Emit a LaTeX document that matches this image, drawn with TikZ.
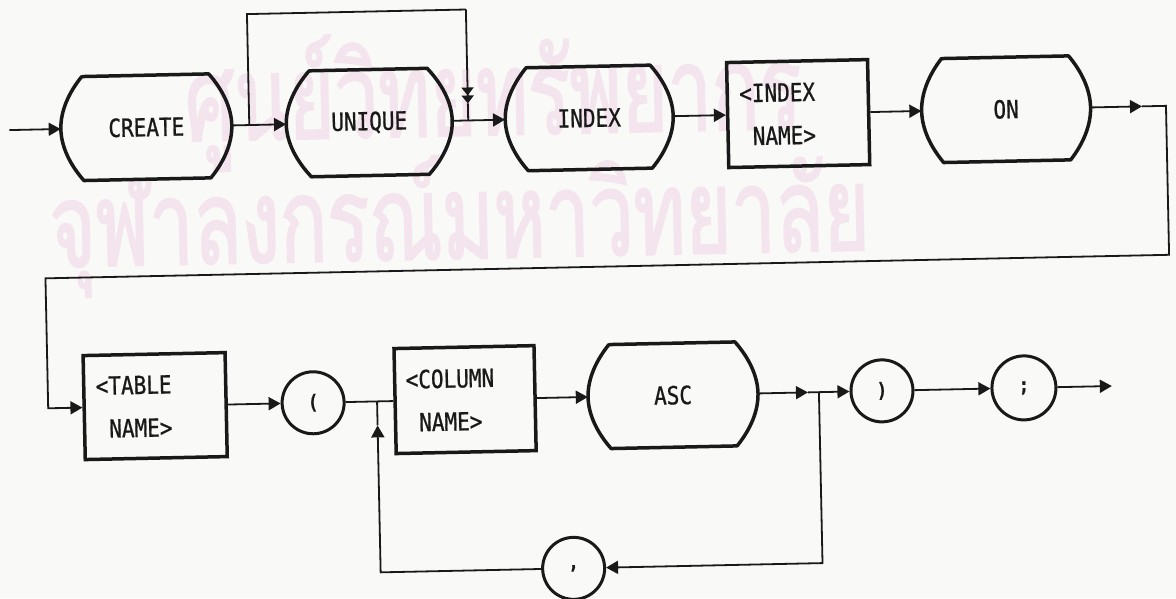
\documentclass[tikz,border=0pt]{standalone}
\usepackage{fontspec}
\usetikzlibrary{arrows.meta,calc}
\newfontfamily\dotfont[FakeStretch=0.84,FakeBold=0.8]{DejaVu Sans Mono}
\newfontfamily\thaifont[Script=Thai,FakeStretch=0.665,FakeBold=1.5]{Loma}
\definecolor{ink}{RGB}{25,25,25}
\definecolor{wm}{RGB}{244,228,238}
\definecolor{paper}{RGB}{249,249,247}
\tikzset{
  conn/.style={draw=ink, line width=1.8pt},
  arr/.style={conn, -{Triangle[length=12pt,width=13pt]}},
  arrtwo/.style={conn, -{Triangle[length=8pt,width=12pt]Triangle[length=8pt,width=12pt]}},
  border/.style={draw=ink, line width=3.5pt, line join=round},
  lbl/.style={font=\dotfont\fontsize{25}{43}\selectfont, text=ink, inner sep=0pt},
  kwnode/.style={lbl, draw=none, shape=rectangle, align=center},
  boxnode/.style={lbl, draw=ink, line width=3.5pt, shape=rectangle, align=left},
  circnode/.style={draw=ink, line width=3pt, circle, minimum size=62pt, inner sep=0pt,
    font=\dotfont\bfseries\fontsize{20}{20}\selectfont, text=ink},
  wmark/.style={text=wm, font=\thaifont\fontsize{118}{118}\selectfont, inner sep=0pt, anchor=base west},
}
\newcommand\kwshape[7]{%
  \node[kwnode, minimum width=#4pt, minimum height=#5pt] (#1) at (#2,#3) {#7};
  \pgfmathsetmacro\kwA{#4/2}\pgfmathsetmacro\kwB{#5/2}
  \draw[border] ({#2-\kwA+#6},{#3-\kwB}) -- ({#2+\kwA-#6},{#3-\kwB})
    .. controls ({#2+\kwA-0.4*#6},{#3-0.7*\kwB}) and ({#2+\kwA},{#3-0.35*\kwB}) .. ({#2+\kwA},#3)
    .. controls ({#2+\kwA},{#3+0.35*\kwB}) and ({#2+\kwA-0.4*#6},{#3+0.7*\kwB}) .. ({#2+\kwA-#6},{#3+\kwB})
    -- ({#2-\kwA+#6},{#3+\kwB})
    .. controls ({#2-\kwA+0.4*#6},{#3+0.7*\kwB}) and ({#2-\kwA},{#3+0.35*\kwB}) .. ({#2-\kwA},#3)
    .. controls ({#2-\kwA},{#3-0.35*\kwB}) and ({#2-\kwA+0.4*#6},{#3-0.7*\kwB}) .. cycle;
}
\begin{document}
\begin{tikzpicture}[x=1pt,y=-1pt]
\fill[paper] (0,0) rectangle (1176,598);
\useasboundingbox (0,0) rectangle (1176,598);
\begin{scope}[rotate around={1.2:(588,299)}, transform shape]
% watermark
\node[wmark] (wm1) at (189,133) {ศูนย์วิทยทรัพยากร};
\node[wmark] (wm2) at (51,256) {จุฬาลงกรณ์มหาวิทยาลัย};
% top row
\kwshape{create}{150}{118}{171}{104}{22}{CREATE}
\kwshape{unique}{373}{118}{166}{106}{24}{UNIQUE}
\kwshape{index}{593}{118}{168}{103}{22}{INDEX}
\node[boxnode, minimum width=141pt, minimum height=105pt, text width=117pt] (iname) at (802,118) {<INDEX\\\hphantom{<}NAME>};
\kwshape{on}{1010}{118}{169}{104}{21}{ON}
% bottom row
\node[boxnode, minimum width=142pt, minimum height=104pt, text width=118pt] (tname) at (153,397) {<TABLE\\\hphantom{<}NAME>};
\node[circnode] (lp) at (311,397) {(};
\node[boxnode, minimum width=140pt, minimum height=105pt, text width=118pt] (cname) at (463,397) {<COLUMN\\\hphantom{<}NAME>};
\kwshape{asc}{671}{397}{170}{104}{22}{ASC}
\node[circnode] (rp) at (880,397) {)};
\node[circnode, minimum size=64pt] (semi) at (1022,397) {;};
\node[circnode] (comma) at (568,568) {,};
% coordinates
\coordinate (start) at (13,118);
\coordinate (b1) at (253,118);
\coordinate (bt1) at (253,7);
\coordinate (bt2) at (472,7);
\coordinate (bm) at (472,101);
\coordinate (b2) at (472,118);
\coordinate (r1) at (1146,118);
\coordinate (r2) at (1170,118);
\coordinate (r4) at (46,267);
\coordinate (j1) at (806,397);
\coordinate (j2) at (817,397);
\coordinate (j3) at (375,397);
\coordinate (j4) at (375,421);
\coordinate (fin) at (1110,397);
% connectors
\draw[arr] (start) -- (create.west);
\draw[arr] (create.east) -- (unique.west);
\draw[conn] (b1) -- (bt1) -- (bt2);
\draw[arrtwo] (bt2) -- (bm);
\draw[conn] (bm) -- (b2);
\draw[arr] (unique.east) -- (index.west);
\draw[arr] (index.east) -- (iname.west);
\draw[arr] (iname.east) -- (on.west);
\draw[arr] (on.east) -- (r1);
\draw[arr] (r1) -- (r2) |- (r4) |- (tname.west);
\draw[arr] (tname.east) -- (lp.west);
\draw[conn] (lp.east) -- (cname.west);
\draw[arr] (cname.east) -- (asc.west);
\draw[arr] (asc.east) -- (j1);
\draw[arr] (j1) -- (rp.west);
\draw[arr] (rp.east) -- (semi.west);
\draw[arr] (semi.east) -- (fin);
\draw[arr] (j2) |- (comma.east);
\draw[arr] (comma.west) -| (j4);
\draw[conn] (j4) -- (j3);
\end{scope}
\end{tikzpicture}
\end{document}
